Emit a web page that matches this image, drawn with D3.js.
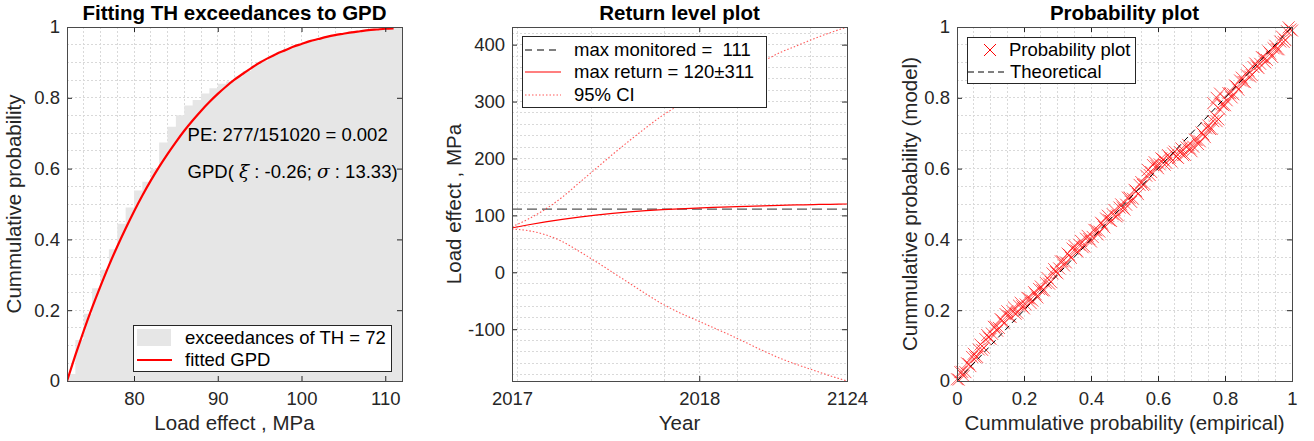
<!DOCTYPE html>
<meta charset="utf-8">
<script src="https://d3js.org/d3.v7.min.js"></script>
<style>
  body { margin: 0; background: #fff; }
  svg text { font-family: "Liberation Sans", Arial, Helvetica, sans-serif; }
</style>
<body>
<div id="chart"></div>
<script>
// ---------- data: panel 1 (GPD fit of threshold exceedances)
var gpdX = [72,73,74,75,76,77,78,79,80,81,82,83,84,85,86,87,88,89,90,91,
            92,93,94,95,96,97,98,99,100,101,102,103,104,105,106,107,108,109,110,111];
var gpdF = [0,0.073,0.142,0.207,0.268,0.326,0.380,0.431,0.479,0.524,0.566,0.605,0.641,0.675,0.707,0.736,0.763,0.788,0.811,0.832,
            0.851,0.868,0.884,0.899,0.912,0.924,0.934,0.944,0.952,0.960,0.966,0.972,0.977,0.981,0.985,0.988,0.991,0.993,0.995,0.996];
var binLeft = [72,73,74,75,76,77,78,79,80,81,82,83,84,85,86,87,88,89,90,91,
               92,93,94,95,96,97,98,99,100,101,102,103,104,105,106,107,108,109,110,111,112];
var binCdf = [0.020,0.116,0.190,0.262,0.314,0.372,0.444,0.490,0.538,0.563,0.598,0.674,0.718,0.751,0.778,0.794,0.812,0.827,0.840,0.846,
              0.860,0.876,0.892,0.905,0.918,0.929,0.939,0.948,0.956,0.963,0.969,0.974,0.979,0.983,0.986,0.989,0.992,0.994,0.995,1.0,1.0];
var x1Lim = [72, 112], y1Lim = [0, 1];
var x1Ticks = [80, 90, 100, 110], y1Ticks = [0, 0.2, 0.4, 0.6, 0.8, 1];
var x1Minor = [74,76,78,80,82,84,86,88,90,92,94,96,98,100,102,104,106,108,110];
var y1Minor = [0.05,0.1,0.15,0.2,0.25,0.3,0.35,0.4,0.45,0.5,0.55,0.6,0.65,0.7,0.75,0.8,0.85,0.9,0.95];

// ---------- data: panel 2 (return levels)
var rlT     = [0,0.05,0.1,0.15,0.2,0.25,0.3,0.35,0.4,0.45,0.5,0.55,0.6,0.65,0.7,0.75,0.8,0.85,0.9,0.95,1];
var rlLevel = [78,83.5,88.5,93,97,100.5,103.5,106,108.2,110,111.5,112.8,114,115,116,116.8,117.6,118.3,119,119.5,120];
var rlLower = [76,73,66,54,37,19,0,-19,-38,-56,-71,-84,-97,-110,-124,-138,-151,-162,-172,-182,-191];
var rlUpper = [80,94,111,132,157,182,207,231,254,276,294,310,325,340,356,371,386,398,410,421,431];
var maxMonitored = 111;
var x2Lim = [0, 1], y2Lim = [-191, 431];
var x2Ticks = [0, 0.559, 1], x2Labels = ["2017", "2018", "2124"];
var x2Minor = [0.017, 0.236, 0.455, 0.559, 0.673, 0.892];
var y2Ticks = [-100, 0, 100, 200, 300, 400];
var y2Minor = [-180,-160,-140,-120,-100,-80,-60,-40,-20,0,20,40,60,80,100,120,140,160,180,200,220,240,260,280,300,320,340,360,380,400,420];

// ---------- data: panel 3 (probability plot)
var ppEmp = [0.00,0.01,0.02,0.03,0.04,0.05,0.06,0.07,0.08,0.09,0.10,0.11,0.12,0.13,0.14,0.15,0.16,0.17,0.18,0.19,
             0.20,0.21,0.22,0.23,0.24,0.25,0.26,0.27,0.28,0.29,0.30,0.31,0.32,0.33,0.34,0.35,0.36,0.37,0.38,0.39,
             0.40,0.41,0.42,0.43,0.44,0.45,0.46,0.47,0.48,0.49,0.50,0.51,0.52,0.53,0.54,0.55,0.56,0.57,0.58,0.59,
             0.60,0.61,0.62,0.63,0.64,0.65,0.66,0.67,0.68,0.69,0.70,0.71,0.72,0.73,0.74,0.75,0.76,0.77,0.78,0.79,
             0.80,0.81,0.82,0.83,0.84,0.85,0.86,0.87,0.88,0.89,0.90,0.91,0.92,0.93,0.94,0.95,0.96,0.97,0.98,0.99,
             1.00,0.765,0.775,0.785];
var ppModel = [0.005,0.025,0.014,0.050,0.042,0.077,0.068,0.103,0.094,0.130,0.119,0.153,0.142,0.175,0.163,0.197,0.181,0.208,0.193,0.221,
               0.205,0.235,0.220,0.251,0.236,0.267,0.256,0.291,0.280,0.316,0.304,0.338,0.326,0.360,0.348,0.382,0.366,0.396,0.380,0.410,
               0.394,0.427,0.414,0.447,0.434,0.467,0.452,0.483,0.468,0.499,0.484,0.518,0.506,0.540,0.528,0.562,0.556,0.596,0.590,0.618,
               0.601,0.629,0.611,0.638,0.620,0.648,0.630,0.657,0.639,0.667,0.649,0.682,0.669,0.702,0.689,0.722,0.712,0.749,0.739,0.782,
               0.779,0.813,0.801,0.835,0.823,0.857,0.844,0.877,0.864,0.897,0.884,0.915,0.900,0.931,0.916,0.947,0.937,0.973,0.963,0.999,
               0.990,0.785,0.800,0.812];
var ppEmpB = [0.005,0.015,0.025,0.035,0.045,0.055,0.065,0.075,0.085,0.095,0.105,0.115,0.125,0.135,0.145,0.155,0.165,0.175,0.185,0.195,
              0.205,0.215,0.225,0.235,0.245,0.255,0.265,0.275,0.285,0.295,0.305,0.315,0.325,0.335,0.345,0.355,0.365,0.375,0.385,0.395,
              0.405,0.415,0.425,0.435,0.445,0.455,0.465,0.475,0.485,0.495,0.505,0.515,0.525,0.535,0.545,0.555,0.565,0.575,0.585,0.595,
              0.605,0.615,0.625,0.635,0.645,0.655,0.665,0.675,0.685,0.695,0.705,0.715,0.725,0.735,0.745,0.755,0.765,0.775,0.785,0.795,
              0.805,0.815,0.825,0.835,0.845,0.855,0.865,0.875,0.885,0.895,0.905,0.915,0.925,0.935,0.945,0.955,0.965,0.975,0.985,0.995];
var ppModelB = [0.004,0.026,0.025,0.048,0.068,0.067,0.089,0.088,0.118,0.123,0.133,0.153,0.150,0.171,0.189,0.183,0.198,0.190,0.213,0.211,
                0.216,0.233,0.227,0.245,0.260,0.256,0.277,0.275,0.304,0.308,0.318,0.338,0.335,0.356,0.374,0.369,0.385,0.378,0.402,0.401,
                0.407,0.426,0.422,0.442,0.459,0.454,0.471,0.465,0.490,0.490,0.498,0.518,0.515,0.536,0.554,0.554,0.580,0.582,0.610,0.608,
                0.612,0.626,0.616,0.631,0.643,0.634,0.647,0.638,0.660,0.657,0.662,0.681,0.677,0.697,0.714,0.712,0.734,0.734,0.767,0.779,
                0.793,0.813,0.810,0.831,0.849,0.845,0.864,0.860,0.887,0.889,0.896,0.913,0.907,0.925,0.940,0.937,0.959,0.958,0.988,0.993];
var x3Ticks = [0, 0.2, 0.4, 0.6, 0.8, 1], y3Ticks = [0, 0.2, 0.4, 0.6, 0.8, 1];
var p3Minor = [0.05,0.1,0.15,0.2,0.25,0.3,0.35,0.4,0.45,0.5,0.55,0.6,0.65,0.7,0.75,0.8,0.85,0.9,0.95];

// ---------- layout
var W = 335, H = 354, TOP = 27;
var lefts = [67, 512, 957];
var ink = "#262626";

var svg = d3.select("#chart").append("svg")
    .attr("width", 1314).attr("height", 441);

function panel(i) {
  var g = svg.append("g").attr("transform", "translate(" + lefts[i] + "," + TOP + ")");
  g.append("clipPath").attr("id", "clip" + i)
    .append("rect").attr("width", W).attr("height", H);
  return g;
}

function grid(g, x, y, gx, gy) {
  var gg = g.append("g");
  gg.selectAll(".gx").data(gx).enter().append("line").attr("class", "gx")
    .attr("x1", function(d) { return x(d); }).attr("x2", function(d) { return x(d); })
    .attr("y1", 0).attr("y2", H);
  gg.selectAll(".gy").data(gy).enter().append("line").attr("class", "gy")
    .attr("y1", function(d) { return y(d); }).attr("y2", function(d) { return y(d); })
    .attr("x1", 0).attr("x2", W);
  gg.selectAll("line").attr("stroke", "#d9d9d9").attr("stroke-width", 1)
    .attr("stroke-dasharray", "2,2").attr("shape-rendering", "crispEdges");
}

function axes(g, x, y, o) {
  var fmtX = o.xLabels ? function(d, i) { return o.xLabels[i]; } : function(d) { return String(d); };
  var parts = [
    g.append("g").attr("transform", "translate(0," + H + ")")
      .call(d3.axisBottom(x).tickValues(o.xTicks).tickFormat(fmtX).tickSizeInner(-5).tickSizeOuter(0).tickPadding(11)),
    g.append("g")
      .call(d3.axisTop(x).tickValues(o.xTicks).tickFormat("").tickSizeInner(-5).tickSizeOuter(0)),
    g.append("g")
      .call(d3.axisLeft(y).tickValues(o.yTicks).tickFormat(function(d) { return String(d); }).tickSizeInner(-5).tickSizeOuter(0).tickPadding(7)),
    g.append("g").attr("transform", "translate(" + W + ",0)")
      .call(d3.axisRight(y).tickValues(o.yTicks).tickFormat("").tickSizeInner(-5).tickSizeOuter(0))
  ];
  parts.forEach(function(p) {
    p.select(".domain").remove();
    p.selectAll(".tick line").attr("stroke", ink);
    p.selectAll("text").attr("font-size", "18.5px").attr("fill", ink).attr("font-family", null);
  });
  g.append("rect").attr("width", W).attr("height", H)
    .attr("fill", "none").attr("stroke", "#4a4a4a").attr("stroke-width", 1)
    .attr("shape-rendering", "crispEdges");

  g.append("text").attr("x", W / 2).attr("y", -7)
    .attr("text-anchor", "middle").attr("font-size", "20.5px").attr("font-weight", "bold")
    .attr("fill", "#000").text(o.title);
  g.append("text").attr("x", W / 2).attr("y", H + 49)
    .attr("text-anchor", "middle").attr("font-size", "20.5px").attr("fill", ink).text(o.xLabel);
  g.append("text").attr("transform", "translate(" + o.yLabelX + "," + (H / 2) + ") rotate(-90)")
    .attr("text-anchor", "middle").attr("font-size", "20.5px").attr("fill", ink).text(o.yLabel);
}

function legendBox(g, x0, y0, w, h) {
  g.append("rect").attr("x", x0 + 0.5).attr("y", y0 + 0.5).attr("width", w).attr("height", h)
    .attr("fill", "#fff").attr("stroke", ink).attr("stroke-width", 1);
}
function legendText(g, x0, yc, txt) {
  return g.append("text").attr("x", x0).attr("y", yc).attr("dy", "0.35em")
    .attr("font-size", "18.5px").attr("fill", "#000").text(txt);
}

// ================= panel 1
(function() {
  var g = panel(0);
  var x = d3.scaleLinear().domain(x1Lim).range([0, W]);
  var y = d3.scaleLinear().domain(y1Lim).range([H, 0]);
  var binData = binLeft.map(function(v, i) { return [v, binCdf[i]]; });
  var stepArea = d3.area().curve(d3.curveStepAfter)
      .x(function(d) { return x(d[0]); }).y0(y(0)).y1(function(d) { return y(d[1]); });
  grid(g, x, y, x1Minor, y1Minor);
  g.append("path").datum(binData).attr("fill", "#e6e6e6").attr("d", stepArea);

  var fit = gpdX.map(function(v, i) { return [v, gpdF[i]]; });
  g.append("path").datum(fit).attr("clip-path", "url(#clip0)")
    .attr("fill", "none").attr("stroke", "#ff0000").attr("stroke-width", 2.2)
    .attr("d", d3.line().curve(d3.curveMonotoneX)
      .x(function(d) { return x(d[0]); }).y(function(d) { return y(d[1]); }));

  g.append("text").attr("x", x(86.4)).attr("y", y(0.695)).attr("dy", "0.35em")
    .attr("font-size", "18.5px").attr("fill", "#000").text("PE: 277/151020 = 0.002");
  var t2 = g.append("text").attr("x", x(86.4)).attr("y", y(0.593)).attr("dy", "0.35em")
    .attr("font-size", "18.5px").attr("fill", "#000");
  t2.append("tspan").text("GPD(\u00A0");
  t2.append("tspan").attr("font-family", "DejaVu Serif").attr("font-style", "italic").text("\u03BE");
  t2.append("tspan").text("\u00A0: -0.26; ");
  t2.append("tspan").attr("font-family", "DejaVu Serif").attr("font-style", "italic").text("\u03C3");
  t2.append("tspan").text("\u00A0: 13.33)");

  axes(g, x, y, {
    xTicks: x1Ticks, yTicks: y1Ticks,
    title: "Fitting TH exceedances to GPD",
    xLabel: "Load effect , MPa", yLabel: "Cummulative probability", yLabelX: -46
  });

  // legend
  legendBox(g, 66, 298, 258, 46);
  g.append("rect").attr("x", 70).attr("y", 302).attr("width", 34).attr("height", 17).attr("fill", "#e6e6e6");
  legendText(g, 118, 311, "exceedances of TH = 72");
  g.append("line").attr("x1", 70).attr("x2", 105).attr("y1", 333).attr("y2", 333)
    .attr("stroke", "#ff0000").attr("stroke-width", 2.2);
  legendText(g, 118, 333, "fitted GPD");
})();

// ================= panel 2
(function() {
  var g = panel(1);
  var x = d3.scaleLinear().domain(x2Lim).range([0, W]);
  var y = d3.scaleLinear().domain(y2Lim).range([H, 0]);
  grid(g, x, y, x2Minor, y2Minor);

  var line = function(vals) {
    return d3.line().curve(d3.curveMonotoneX)
      .x(function(d, i) { return x(rlT[i]); }).y(function(d) { return y(d); })(vals);
  };
  var plot = g.append("g").attr("clip-path", "url(#clip1)");
  plot.append("line").attr("x1", 0).attr("x2", W)
    .attr("y1", y(maxMonitored)).attr("y2", y(maxMonitored))
    .attr("stroke", "#555").attr("stroke-width", 1.3).attr("stroke-dasharray", "10,5");
  plot.append("path").attr("d", line(rlLevel))
    .attr("fill", "none").attr("stroke", "#ff0000").attr("stroke-width", 1.2);
  [rlLower, rlUpper].forEach(function(ci) {
    plot.append("path").attr("d", line(ci))
      .attr("fill", "none").attr("stroke", "#ff3030").attr("stroke-opacity", 0.8)
      .attr("stroke-width", 1.1).attr("stroke-dasharray", "1.5,2");
  });

  axes(g, x, y, {
    xTicks: x2Ticks, xLabels: x2Labels, yTicks: y2Ticks,
    title: "Return level plot",
    xLabel: "Year", yLabel: "Load effect , MPa", yLabelX: -51
  });

  legendBox(g, 10, 9, 244, 71);
  g.append("line").attr("x1", 13).attr("x2", 49).attr("y1", 23).attr("y2", 23)
    .attr("stroke", "#555").attr("stroke-width", 1.3).attr("stroke-dasharray", "7,5");
  legendText(g, 62, 23, "max monitored =\u00A0\u00A0111");
  g.append("line").attr("x1", 13).attr("x2", 49).attr("y1", 45).attr("y2", 45)
    .attr("stroke", "#ff0000").attr("stroke-width", 1.2);
  legendText(g, 62, 45, "max return = 120\u00B1311");
  g.append("line").attr("x1", 13).attr("x2", 49).attr("y1", 68).attr("y2", 68)
    .attr("stroke", "#ff3030").attr("stroke-opacity", 0.8).attr("stroke-width", 1.1)
    .attr("stroke-dasharray", "1.5,2");
  legendText(g, 62, 68, "95% CI");
})();

// ================= panel 3
(function() {
  var g = panel(2);
  var x = d3.scaleLinear().domain([0, 1]).range([0, W]);
  var y = d3.scaleLinear().domain([0, 1]).range([H, 0]);
  grid(g, x, y, p3Minor, p3Minor);

  var pts = ppEmp.map(function(v, i) { return [v, ppModel[i]]; })
    .concat(ppEmpB.map(function(v, i) { return [v, ppModelB[i]]; }));
  var cross = "M-6,-6L6,6M-6,6L6,-6";
  g.append("g")
    .selectAll("path").data(pts).enter().append("path")
    .attr("transform", function(d) { return "translate(" + x(d[0]) + "," + y(d[1]) + ")"; })
    .attr("d", cross).attr("fill", "none")
    .attr("stroke", "#ff0000").attr("stroke-opacity", 0.65).attr("stroke-width", 1);
  g.append("line").attr("x1", x(0)).attr("y1", y(0)).attr("x2", x(1)).attr("y2", y(1))
    .attr("stroke", "#000").attr("stroke-width", 1).attr("stroke-dasharray", "6,4");

  axes(g, x, y, {
    xTicks: x3Ticks, yTicks: y3Ticks,
    title: "Probability plot",
    xLabel: "Cummulative probability (empirical)", yLabel: "Cummulative probability (model)", yLabelX: -40
  });

  legendBox(g, 10, 10, 168, 46);
  g.append("path").attr("transform", "translate(33,23)").attr("d", "M-6,-6L6,6M-6,6L6,-6")
    .attr("stroke", "#ff0000").attr("stroke-width", 1);
  legendText(g, 52, 23, "Probability plot");
  g.append("line").attr("x1", 11).attr("x2", 51).attr("y1", 45).attr("y2", 45)
    .attr("stroke", "#000").attr("stroke-width", 1).attr("stroke-dasharray", "6,4");
  legendText(g, 53, 45, "Theoretical");
})();
</script>
</body>
